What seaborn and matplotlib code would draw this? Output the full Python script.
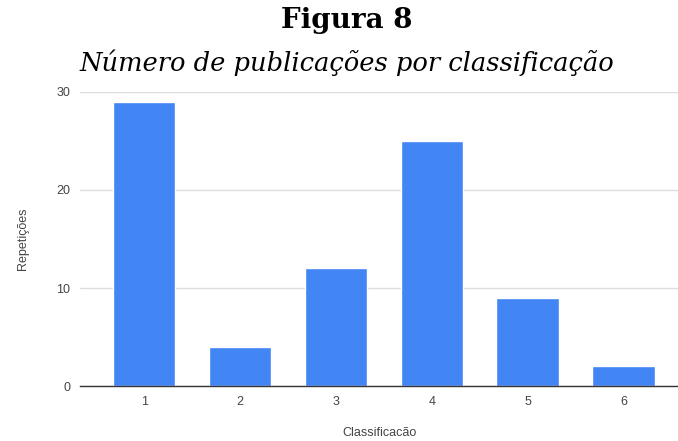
import matplotlib
matplotlib.use("Agg")
import matplotlib.pyplot as plt
import seaborn as sns
import pandas as pd

categories = ["1", "2", "3", "4", "5", "6"]
repeticoes = [29, 4, 12, 25, 9, 2]
y_ticks = [0, 10, 20, 30]

df = pd.DataFrame({"Classificacão": categories, "Repetições": repeticoes})

sns.set_theme(style="white")
plt.rcParams["font.family"] = ["Liberation Sans", "DejaVu Sans"]

fig = plt.figure(figsize=(6.78, 4.41), dpi=100)
ax = fig.add_axes([0.118, 0.1247, 0.882, 0.6667])

sns.barplot(data=df, x="Classificacão", y="Repetições", color="#4285F4",
            saturation=1, width=0.65, ax=ax, zorder=3)

ax.set_ylim(0, 30)
ax.set_xlim(-0.67, 5.57)
ax.set_yticks(y_ticks)
ax.yaxis.grid(True, color="#dcdcdc", linewidth=1, zorder=0)
ax.tick_params(axis="both", length=0, labelsize=9, labelcolor="#444444", pad=7)
for side in ["top", "right", "left"]:
    ax.spines[side].set_visible(False)
ax.spines["bottom"].set_color("#333333")
ax.spines["bottom"].set_linewidth(1)
ax.spines["bottom"].set_zorder(4)

ax.set_xlabel("Classificacão", fontsize=9, color="#444444", labelpad=14)
ax.set_ylabel("Repetições", fontsize=9, color="#444444", labelpad=20)

fig.text(0.512, 0.953, "Figura 8", ha="center", va="center",
         fontsize=20, fontweight="bold", family="DejaVu Serif", color="black")
fig.text(0.512, 0.857, "Número de publicações por classificação", ha="center",
         va="center", fontsize=18.5, style="italic", family="DejaVu Serif",
         color="black")

fig.savefig("out.png", dpi=100)
